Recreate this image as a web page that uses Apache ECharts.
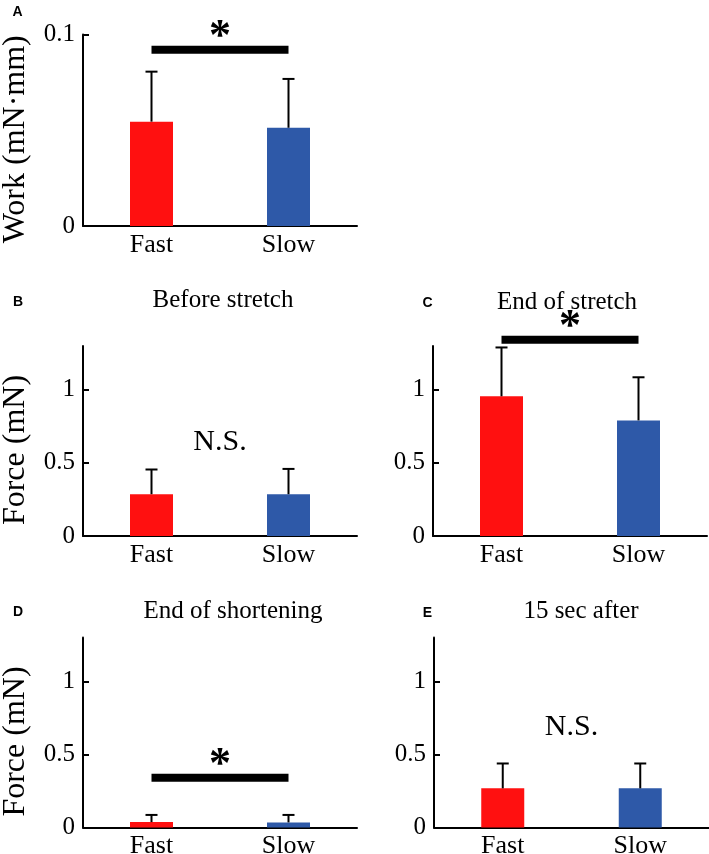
<!DOCTYPE html>
<html>
<head>
<meta charset="utf-8">
<script src="https://cdn.jsdelivr.net/npm/echarts@6/dist/echarts.min.js"></script>
<style>html,body{margin:0;padding:0;background:#fff;}#chart{width:709px;height:854px;}</style>
</head>
<body>
<div id="chart"></div>
<script>
// ---- data ----
const categories = ['Fast', 'Slow'];
const barColors = ['#FF1010', '#2E59A8'];

const workMean = [0.0545, 0.0513];
const workUpper = [0.0806, 0.0768];
const beforeMean = [0.286, 0.286];
const beforeUpper = [0.455, 0.459];
const endStretchMean = [0.956, 0.791];
const endStretchUpper = [1.29, 1.086];
const endShortMean = [0.037, 0.035];
const endShortUpper = [0.086, 0.086];
const after15Mean = [0.268, 0.268];
const after15Upper = [0.438, 0.438];

const workTicks = [0, 0.1];
const forceTicks = [0, 0.5, 1];

const panelLetters = ['A', 'B', 'C', 'D', 'E'];
const panelTitles = ['', 'Before stretch', 'End of stretch', 'End of shortening', '15 sec after'];
const yNames = ['Work (mN\u00b7mm)', 'Force (mN)', '', 'Force (mN)', ''];

// significance annotations: [panelIndex, y value, label]
const sigMarks = [[0, 0.092, '*'], [2, 1.343, '*'], [3, 0.34, '*']];
const nsMarks = [[1, 0.643, 'N.S.'], [4, 0.687, 'N.S.']];

// ---- layout ----
const SERIF = "'Liberation Serif','Times New Roman',serif";
const grids = [
  { left: 83, top: 34.5, width: 274, height: 191.5, outerBoundsMode: 'none' },
  { left: 83, top: 346, width: 274, height: 190, outerBoundsMode: 'none' },
  { left: 433, top: 346, width: 274, height: 190, outerBoundsMode: 'none' },
  { left: 83, top: 637.5, width: 274, height: 190, outerBoundsMode: 'none' },
  { left: 434, top: 637.5, width: 275, height: 190, outerBoundsMode: 'none' }
];
const yMax = [0.1, 1.3, 1.3, 1.3, 1.3];
const means = [workMean, beforeMean, endStretchMean, endShortMean, after15Mean];
const uppers = [workUpper, beforeUpper, endStretchUpper, endShortUpper, after15Upper];

const xAxes = grids.map((g, i) => ({
  type: 'category', gridIndex: i, data: categories, boundaryGap: true,
  axisLine: { lineStyle: { color: '#000', width: 2 } },
  axisTick: { show: false },
  axisLabel: { color: '#000', fontFamily: SERIF, fontSize: 26, margin: 6 }
}));
const yAxes = grids.map((g, i) => ({
  type: 'value', gridIndex: i, min: 0, max: yMax[i],
  name: yNames[i], nameLocation: 'middle', nameGap: 51,
  nameTextStyle: { color: '#000', fontFamily: SERIF, fontSize: 32, padding: [0, 18, 0, 0] },
  splitLine: { show: false },
  axisLine: { show: true, lineStyle: { color: '#000', width: 2 } },
  axisTick: { show: true, inside: true, length: 6, lineStyle: { color: '#000', width: 2 },
    customValues: i === 0 ? workTicks : forceTicks },
  axisLabel: { color: '#000', fontFamily: SERIF, fontSize: 25, margin: 8,
    customValues: i === 0 ? workTicks : forceTicks }
}));

const series = [];
grids.forEach((g, i) => {
  series.push({
    type: 'bar', xAxisIndex: i, yAxisIndex: i, barWidth: 43,
    data: means[i].map((v, k) => ({ value: v, itemStyle: { color: barColors[k] } })),
    z: 2
  });
  series.push({
    type: 'custom', xAxisIndex: i, yAxisIndex: i, z: 3,
    data: means[i].map((v, k) => [k, v, uppers[i][k]]),
    renderItem: function (params, api) {
      const x = api.value(0);
      const p0 = api.coord([x, api.value(1)]);
      const p1 = api.coord([x, api.value(2)]);
      return {
        type: 'group', children: [
          { type: 'line', shape: { x1: p0[0], y1: p0[1], x2: p1[0], y2: p1[1] }, style: { stroke: '#000', lineWidth: 2 } },
          { type: 'line', shape: { x1: p1[0] - 6, y1: p1[1], x2: p1[0] + 6, y2: p1[1] }, style: { stroke: '#000', lineWidth: 2 } }
        ]
      };
    }
  });
});

sigMarks.forEach(m => {
  series.push({
    type: 'custom', xAxisIndex: m[0], yAxisIndex: m[0], z: 4, clip: false,
    data: [[m[1]]],
    renderItem: function (params, api) {
      const y = api.value(0);
      const a = api.coord([0, y]);
      const b = api.coord([1, y]);
      return {
        type: 'group', children: [
          { type: 'line', shape: { x1: a[0], y1: a[1], x2: b[0], y2: b[1] }, style: { stroke: '#000', lineWidth: 8 } },
          { type: 'text', x: (a[0] + b[0]) / 2, y: a[1] - 12,
            style: { text: m[2], textAlign: 'center', textVerticalAlign: 'middle', font: 'bold 44px ' + SERIF, fill: '#000' } }
        ]
      };
    }
  });
});

nsMarks.forEach(m => {
  series.push({
    type: 'custom', xAxisIndex: m[0], yAxisIndex: m[0], z: 4, clip: false,
    data: [[m[1]]],
    renderItem: function (params, api) {
      const y = api.value(0);
      const a = api.coord([0, y]);
      const b = api.coord([1, y]);
      return {
        type: 'text', x: (a[0] + b[0]) / 2, y: a[1],
        style: { text: m[2], textAlign: 'center', textVerticalAlign: 'middle', font: '30px ' + SERIF, fill: '#000' }
      };
    }
  });
});

const letterPos = [[17.5, 12.5], [18, 302.5], [427.5, 303], [18, 612.5], [427.5, 613]];
const titlePos = [[0, 0], [223, 300], [567, 302], [233, 611], [581, 611]];
const graphic = [];
panelLetters.forEach((L, i) => {
  graphic.push({ type: 'text', x: letterPos[i][0], y: letterPos[i][1],
    style: { text: L, textAlign: 'center', textVerticalAlign: 'middle', font: 'bold 14px "Liberation Sans", Arial, sans-serif', fill: '#000' } });
  if (panelTitles[i]) {
    graphic.push({ type: 'text', x: titlePos[i][0], y: titlePos[i][1],
      style: { text: panelTitles[i], textAlign: 'center', textVerticalAlign: 'middle', font: '25px ' + SERIF, fill: '#000' } });
  }
});

const chart = echarts.init(document.getElementById('chart'), null, { renderer: 'canvas' });
chart.setOption({
  animation: false,
  backgroundColor: '#fff',
  grid: grids,
  xAxis: xAxes,
  yAxis: yAxes,
  series: series,
  graphic: graphic
});
</script>
</body>
</html>
